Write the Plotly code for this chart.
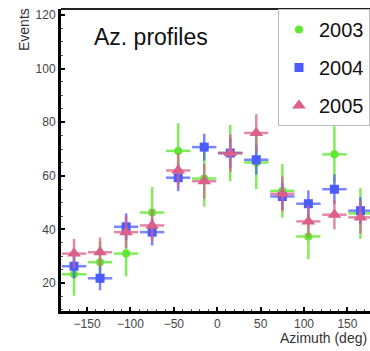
import plotly.graph_objects as go

azimuth = [-165, -135, -105, -75, -45, -15, 15, 45, 75, 105, 135, 165]
bin_half = [14] * 12

ev_2003 = [23.3, 27.8, 31.0, 46.3, 69.3, 59.0, 68.5, 65.0, 54.4, 37.4, 68.0, 46.0]
err_2003 = [8.0, 7.5, 8.5, 9.5, 10.3, 10.5, 10.5, 10.0, 10.0, 8.5, 10.5, 9.5]

ev_2004 = [26.3, 21.8, 41.0, 39.0, 59.3, 70.7, 68.5, 66.0, 52.3, 49.6, 55.0, 47.0]
err_2004 = [4.5, 4.5, 5.0, 5.0, 5.0, 5.0, 5.5, 5.5, 5.0, 5.0, 5.5, 5.0]

ev_2005 = [31.0, 31.5, 39.0, 41.5, 62.0, 58.0, 68.5, 76.0, 53.3, 43.0, 45.5, 44.5]
err_2005 = [5.5, 5.5, 6.0, 6.0, 6.5, 6.5, 7.0, 7.0, 6.5, 6.0, 5.5, 6.0]

y_ticks = [20, 40, 60, 80, 100, 120]
x_ticks = [-150, -100, -50, 0, 50, 100, 150]

series = [
    ("2003", ev_2003, err_2003, "#5fe830", "rgba(95,232,48,0.8)", "circle", 8),
    ("2004", ev_2004, err_2004, "#4a5cff", "rgba(74,92,255,0.75)", "square", 9),
    ("2005", ev_2005, err_2005, "#da5f89", "rgba(218,95,137,0.75)", "triangle-up", 12),
]

fig = go.Figure()
for name, vals, errs, col, ecol, sym, size in series:
    fig.add_trace(go.Scatter(
        x=azimuth, y=vals, mode="markers", name=name, legendgroup=name,
        marker=dict(color=col, symbol=sym, size=size, line=dict(width=0)),
        error_y=dict(type="data", array=errs, visible=True, color=ecol, thickness=2.5, width=0),
        error_x=dict(type="data", array=bin_half, visible=True, color=ecol, thickness=2.5, width=0),
    ))

fig.update_layout(
    width=370, height=351,
    margin=dict(l=61, r=0, t=9, b=40, autoexpand=False),
    paper_bgcolor="white", plot_bgcolor="white",
    font=dict(family="Liberation Sans, Arial, sans-serif", color="#333"),
    showlegend=True,
    legend=dict(
        x=1, xanchor="right", y=1, yanchor="top",
        bgcolor="white", bordercolor="#bbbbbb", borderwidth=1,
        font=dict(size=20, color="#111"), tracegroupgap=9,
        traceorder="grouped",
    ),
    xaxis=dict(
        range=[-180, 176], tickvals=x_ticks, showgrid=False, zeroline=False,
        showline=True, linecolor="black", linewidth=3,
        ticks="inside", ticklen=4, tickwidth=1.5, tickcolor="black",
        tickfont=dict(size=12, color="#444"),
        minor=dict(dtick=10, ticks="inside", ticklen=2, tickcolor="#555", tickwidth=1),
    ),
    yaxis=dict(
        range=[9.6, 122.2], tickvals=y_ticks, showgrid=False, zeroline=False,
        showline=True, linecolor="black", linewidth=3,
        ticks="inside", ticklen=4, tickwidth=1.5, tickcolor="black",
        tickfont=dict(size=12, color="#444"),
        minor=dict(dtick=5, ticks="inside", ticklen=2, tickcolor="#555", tickwidth=1),
    ),
    shapes=[dict(type="line", xref="paper", yref="paper", x0=0, x1=1.05, y0=1, y1=1,
                 line=dict(color="#222", width=2))],
    annotations=[
        dict(text="Az. profiles", xref="paper", yref="paper", x=(92 - 61) / 309, y=(311 - 37) / 302,
             xanchor="left", yanchor="middle", showarrow=False,
             font=dict(size=23, color="#111")),
        dict(text="Events", xref="paper", yref="paper", x=-(61 - 24) / 309, y=(311 - 30) / 302,
             xanchor="center", yanchor="middle", textangle=-90, showarrow=False,
             font=dict(size=14, color="#333")),
        dict(text="Azimuth (deg)", xref="paper", yref="paper", x=(369 - 61) / 309, y=-(338 - 311) / 302,
             xanchor="right", yanchor="middle", showarrow=False,
             font=dict(size=14, color="#333")),
    ],
)

fig.write_html(
    "out.html",
    config={"displayModeBar": False},
    post_script="document.body.style.margin='0';document.body.style.overflow='hidden';",
)
